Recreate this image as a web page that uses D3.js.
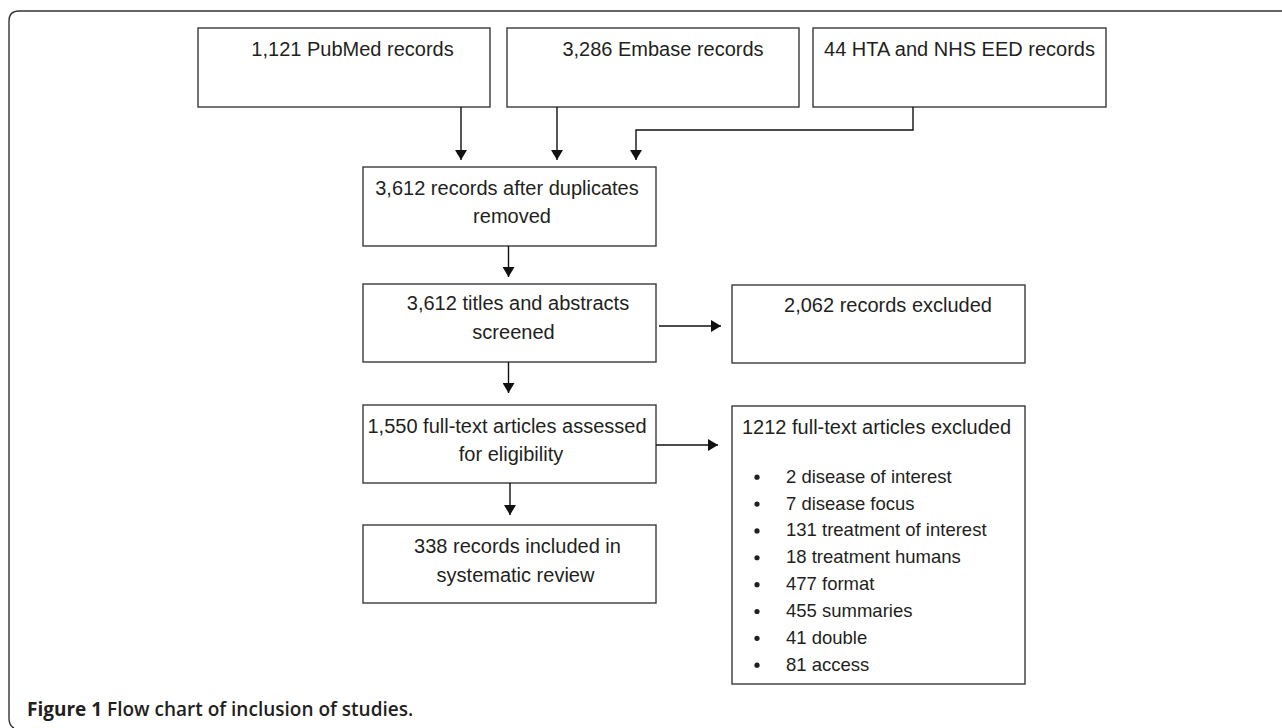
<!DOCTYPE html>
<html>
<head>
<meta charset="utf-8">
<script src="https://cdn.jsdelivr.net/npm/d3@7"></script>
<style>
  html, body { margin: 0; padding: 0; background: #fff; }
  svg { display: block; }
</style>
</head>
<body>
<svg id="chart" width="1282" height="728"></svg>
<script>
// ---------------- Data ----------------
const sourceLabels = ["1,121 PubMed records", "3,286 Embase records", "44 HTA and NHS EED records"];
const stageLabels = [
  ["3,612 records after duplicates", "removed"],
  ["3,612 titles and abstracts", "screened"],
  ["1,550 full-text articles assessed", "for eligibility"],
  ["338 records included in", "systematic review"]
];
const exclusionLabels = ["2,062 records excluded", "1212 full-text articles excluded"];
const exclusionReasons = [
  "2 disease of interest",
  "7 disease focus",
  "131 treatment of interest",
  "18 treatment humans",
  "477 format",
  "455 summaries",
  "41 double",
  "81 access"
];
const captionBold = "Figure 1";
const captionText = "Flow chart of inclusion of studies.";

// ---------------- Layout ----------------
const W = 1282, H = 728;
const svg = d3.select("#chart");
const ink = "#231f20";
const boxStroke = "#3a3a3a";
const font = "'Liberation Sans', Arial, Helvetica, sans-serif";

const srcX = [[198, 490], [507, 799], [813, 1106]];
const srcY = [28, 107];
const srcTextCx = [352.5, 663, 959.5];
const srcBaseline = 55.5;

const colX = [363, 656];
const stageY = [[167, 246], [284, 362], [405, 483], [525, 603]];
const stageTextCx = [[507, 512], [518, 513.5], [507, 511], [517.5, 515.5]];
const stageBaselines = [[195, 223], [310, 339], [433, 461], [553, 582]];

const exX = [732, 1025];
const exY = [[285, 363], [406, 684]];

const yScaleReasons = d3.scaleLinear().domain([0, exclusionReasons.length - 1]).range([482.7, 670.7]);

const arrows = [
  [[461, 107], [461, 160]],
  [[557, 107], [557, 160]],
  [[913, 107], [913, 130], [636, 130], [636, 160]],
  [[508.5, 246], [508.5, 277]],
  [[508.5, 362], [508.5, 393]],
  [[510, 483], [510, 515]],
  [[659, 326], [721, 326]],
  [[656, 445], [718, 445]]
];

// ---------------- Drawing ----------------
const defs = svg.append("defs");
defs.append("marker")
  .attr("id", "ah")
  .attr("markerUnits", "userSpaceOnUse")
  .attr("viewBox", "0 0 10 12")
  .attr("refX", 10).attr("refY", 6)
  .attr("markerWidth", 10).attr("markerHeight", 12)
  .attr("orient", "auto")
  .append("path")
  .attr("d", "M0,0 L10,6 L0,12 Z")
  .attr("fill", "#111");

// outer frame (open on right and bottom)
const fp = d3.path();
fp.moveTo(W, 11);
fp.lineTo(19, 11);
fp.quadraticCurveTo(9, 11, 9, 21);
fp.lineTo(9, 718);
fp.quadraticCurveTo(9, 726, 14, 728);
svg.append("path")
  .attr("d", fp.toString())
  .attr("fill", "none")
  .attr("stroke", "#333")
  .attr("stroke-width", 1.4);

function box(x0, x1, y0, y1) {
  svg.append("rect")
    .attr("x", x0).attr("y", y0)
    .attr("width", x1 - x0).attr("height", y1 - y0)
    .attr("fill", "#fff")
    .attr("stroke", boxStroke)
    .attr("stroke-width", 1.4);
}

sourceLabels.forEach((t, i) => box(srcX[i][0], srcX[i][1], srcY[0], srcY[1]));
svg.selectAll("text.src").data(sourceLabels).join("text")
  .attr("class", "src")
  .attr("x", (d, i) => srcTextCx[i])
  .attr("y", srcBaseline)
  .attr("text-anchor", "middle")
  .attr("font-family", font).attr("font-size", 20)
  .attr("fill", ink)
  .text(d => d);

stageLabels.forEach((lines, i) => {
  box(colX[0], colX[1], stageY[i][0], stageY[i][1]);
  lines.forEach((ln, j) => {
    svg.append("text")
      .attr("x", stageTextCx[i][j])
      .attr("y", stageBaselines[i][j])
      .attr("text-anchor", "middle")
      .attr("font-family", font).attr("font-size", 20)
      .attr("fill", ink)
      .text(ln);
  });
});

box(exX[0], exX[1], exY[0][0], exY[0][1]);
box(exX[0], exX[1], exY[1][0], exY[1][1]);
svg.append("text")
  .attr("x", 888).attr("y", 312)
  .attr("text-anchor", "middle")
  .attr("font-family", font).attr("font-size", 20)
  .attr("fill", ink)
  .text(exclusionLabels[0]);
svg.append("text")
  .attr("x", 742).attr("y", 434)
  .attr("font-family", font).attr("font-size", 20)
  .attr("fill", ink)
  .text(exclusionLabels[1]);

const reasons = svg.selectAll("g.reason").data(exclusionReasons).join("g")
  .attr("class", "reason")
  .attr("transform", (d, i) => `translate(0,${yScaleReasons(i)})`);
reasons.append("circle")
  .attr("cx", 757).attr("cy", -5.5).attr("r", 2.6)
  .attr("fill", ink);
reasons.append("text")
  .attr("x", 786).attr("y", 0)
  .attr("font-family", font).attr("font-size", 18.5)
  .attr("fill", ink)
  .text(d => d);

const line = d3.line();
svg.selectAll("path.arrow").data(arrows).join("path")
  .attr("class", "arrow")
  .attr("d", d => line(d))
  .attr("fill", "none")
  .attr("stroke", "#111")
  .attr("stroke-width", 1.4)
  .attr("marker-end", "url(#ah)");

// caption: size chosen so the line spans ~395px like the reference
const cap = svg.append("text")
  .attr("x", 27).attr("y", 716)
  .attr("font-family", "'Open Sans', Lato, sans-serif")
  .attr("font-weight", 700)
  .attr("font-size", 17)
  .attr("fill", ink);
cap.append("tspan").text(captionBold + " ");
cap.append("tspan").attr("font-weight", 600).text(captionText);
const capW = cap.node().getComputedTextLength();
const fs = Math.max(14, Math.min(19, 17 * 395 / capW));
cap.attr("font-size", fs.toFixed(2));
</script>
</body>
</html>
